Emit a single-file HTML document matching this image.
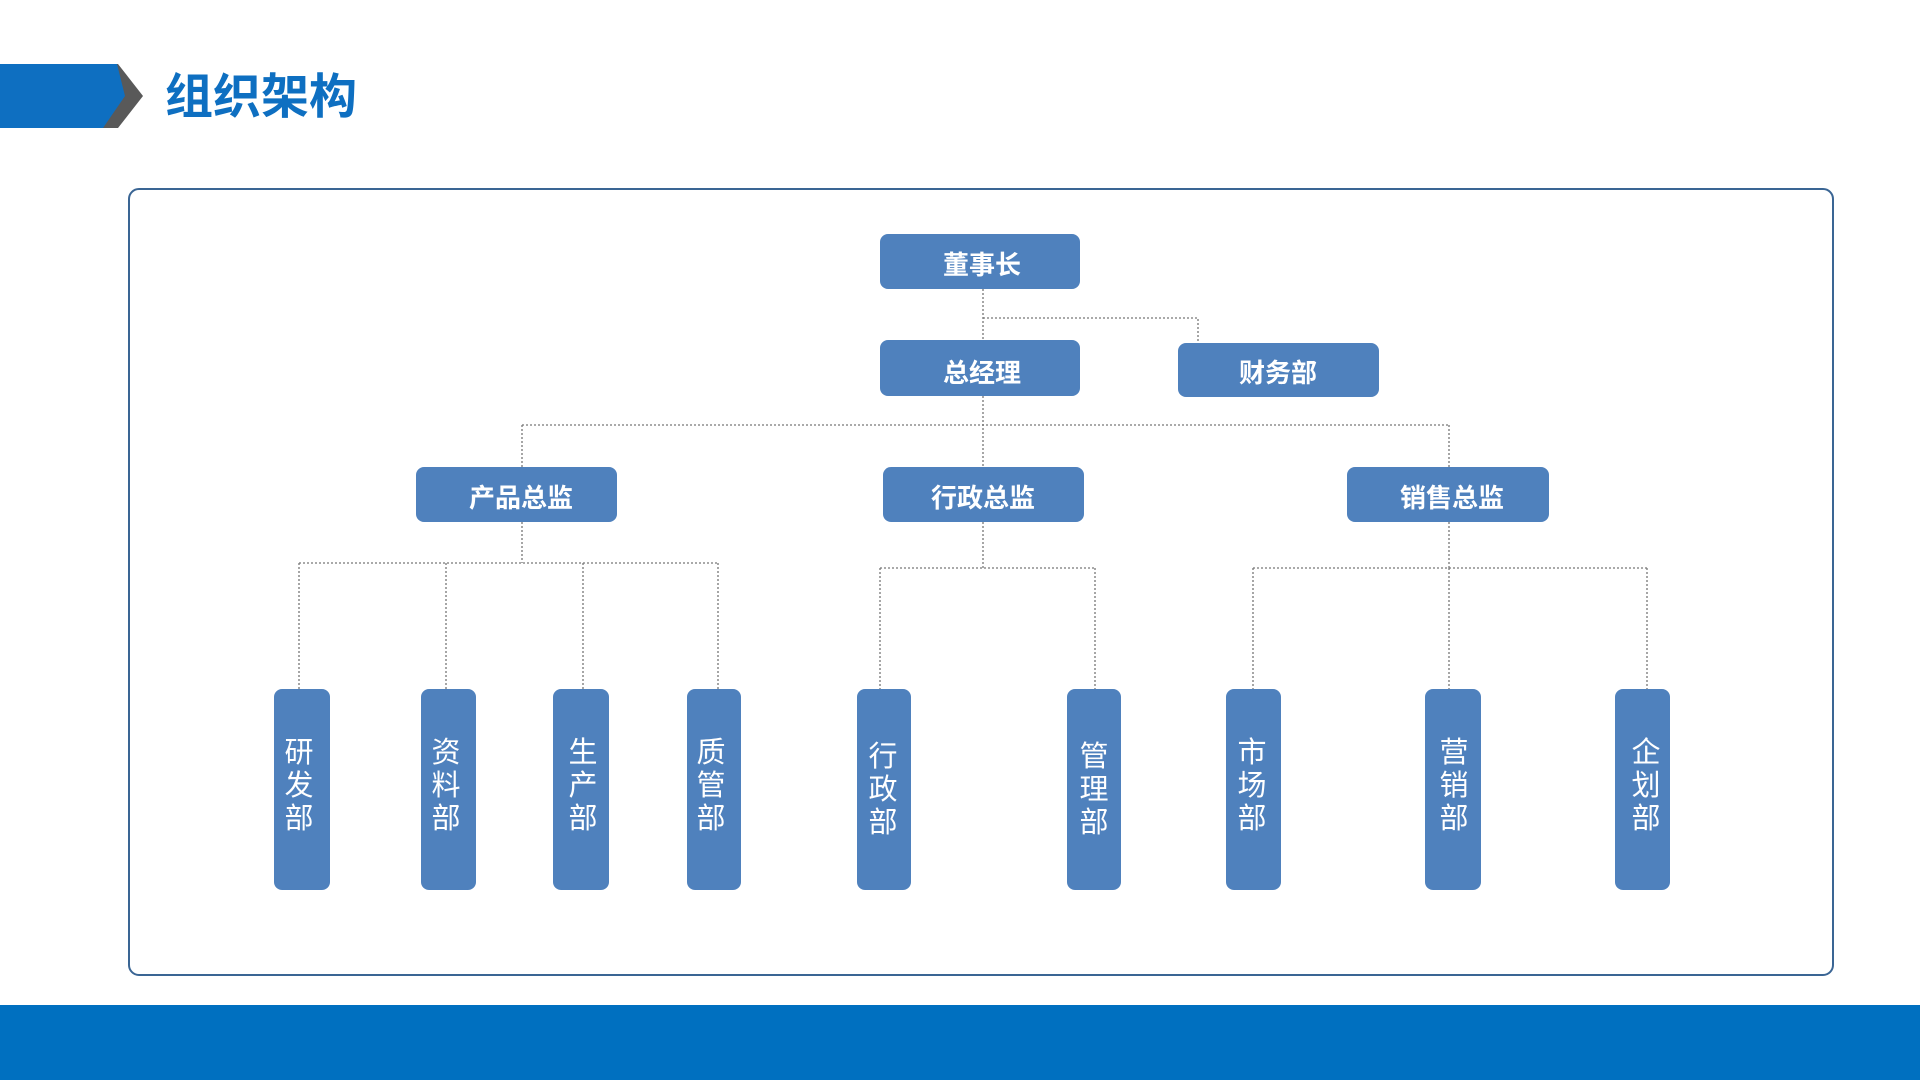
<!DOCTYPE html>
<html><head><meta charset="utf-8"><style>
html,body{margin:0;padding:0;background:#fff;}
svg{display:block}
text{font-family:"Liberation Sans","Noto Sans CJK SC",sans-serif;}
</style></head><body>
<svg width="1920" height="1080" viewBox="0 0 1920 1080" xmlns="http://www.w3.org/2000/svg">
<rect width="1920" height="1080" fill="#fff"/>
<polygon points="0,64 118,64 143,96 118,128 0,128" fill="#595959"/>
<polygon points="0,64 117,64 125,96 103,128 0,128" fill="#0e6fc1"/>
<text x="165" y="113" font-size="48" font-weight="bold" fill="#0e6fc1">组织架构</text>
<rect x="129" y="189" width="1704" height="786" rx="10" fill="none" stroke="#3a6594" stroke-width="2"/>
<rect x="0" y="1005" width="1920" height="75" fill="#0070c0"/>
<g stroke="#777" stroke-width="1.3" stroke-dasharray="2,2" fill="none">
<path d="M983 289V340M983 318H1198V343M983 396V467M522 425H1449M522 425V467M1449 425V467"/>
<path d="M522 522V563M299 563H718M299 563V689M446 563V689M583 563V689M718 563V689"/>
<path d="M983 522V568M880 568H1095M880 568V689M1095 568V689"/>
<path d="M1449 522V568M1253 568H1647M1253 568V689M1449 568V689M1647 568V689"/>
</g>
<g fill="#4f81bd">
<rect x="880" y="234" width="200" height="55" rx="8"/>
<rect x="880" y="340" width="200" height="56" rx="8"/>
<rect x="1178" y="343" width="201" height="54" rx="8"/>
<rect x="416" y="467" width="201" height="55" rx="8"/>
<rect x="883" y="467" width="201" height="55" rx="8"/>
<rect x="1347" y="467" width="202" height="55" rx="8"/>
<rect x="274" y="689" width="56" height="201" rx="8"/>
<rect x="421" y="689" width="55" height="201" rx="8"/>
<rect x="553" y="689" width="56" height="201" rx="8"/>
<rect x="687" y="689" width="54" height="201" rx="8"/>
<rect x="857" y="689" width="54" height="201" rx="8"/>
<rect x="1067" y="689" width="54" height="201" rx="8"/>
<rect x="1226" y="689" width="55" height="201" rx="8"/>
<rect x="1425" y="689" width="56" height="201" rx="8"/>
<rect x="1615" y="689" width="55" height="201" rx="8"/>
</g>
<g fill="#fff" font-size="26" font-weight="bold" text-anchor="middle">
<text x="982" y="274">董事长</text>
<text x="982" y="382">总经理</text>
<text x="1278" y="382">财务部</text>
<text x="521" y="507">产品总监</text>
<text x="983" y="507">行政总监</text>
<text x="1452" y="507">销售总监</text>
</g>
<g fill="#fff" font-size="29" text-anchor="middle">
<text x="299" y="762">研</text><text x="299" y="795">发</text><text x="299" y="828">部</text>
<text x="446" y="762">资</text><text x="446" y="795">料</text><text x="446" y="828">部</text>
<text x="583" y="762">生</text><text x="583" y="795">产</text><text x="583" y="828">部</text>
<text x="711" y="762">质</text><text x="711" y="795">管</text><text x="711" y="828">部</text>
<text x="883" y="766">行</text><text x="883" y="799">政</text><text x="883" y="832">部</text>
<text x="1094" y="766">管</text><text x="1094" y="799">理</text><text x="1094" y="832">部</text>
<text x="1252" y="762">市</text><text x="1252" y="795">场</text><text x="1252" y="828">部</text>
<text x="1454" y="762">营</text><text x="1454" y="795">销</text><text x="1454" y="828">部</text>
<text x="1646" y="762">企</text><text x="1646" y="795">划</text><text x="1646" y="828">部</text>
</g>
</svg>
</body></html>
